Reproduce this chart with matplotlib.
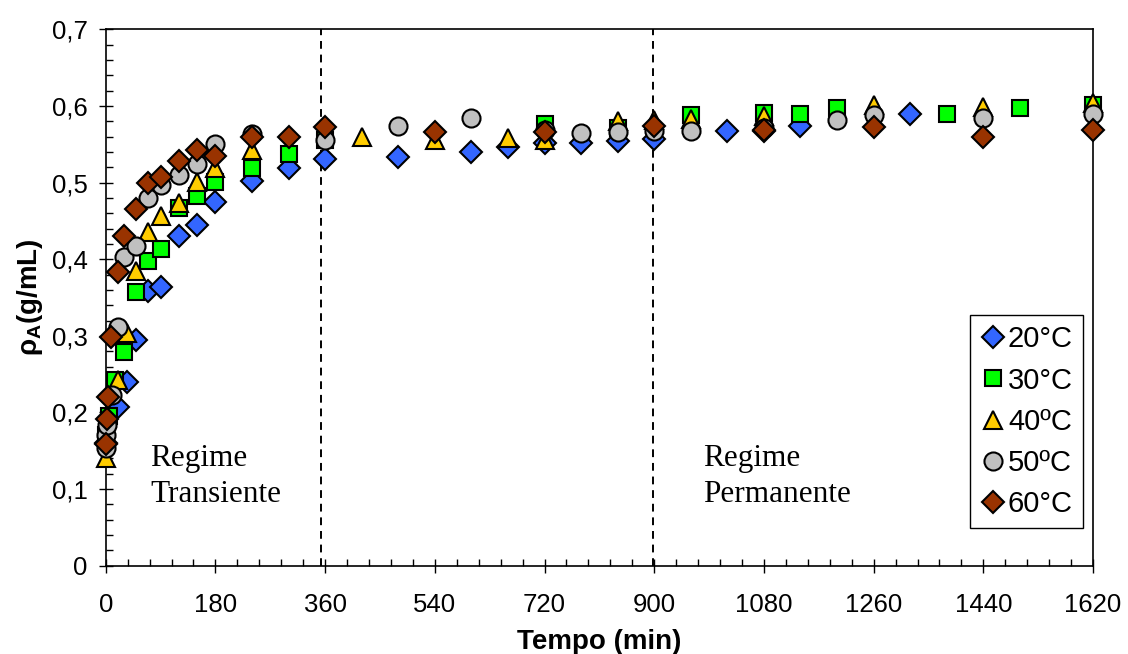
import matplotlib.pyplot as plt
from matplotlib.ticker import MultipleLocator, FuncFormatter
import numpy as np

plt.rcParams['font.family'] = ['Liberation Sans', 'DejaVu Sans']
plt.rcParams['mathtext.fontset'] = 'custom'
plt.rcParams['mathtext.rm'] = 'Liberation Sans'
plt.rcParams['mathtext.bf'] = 'Liberation Sans:bold'
plt.rcParams['mathtext.it'] = 'Liberation Sans:italic'

# tempo (min) e densidade (g/mL) para cada temperatura
t_20 = [0, 20, 35, 50, 70, 90, 120, 150, 180, 240, 300, 360, 480, 600, 660, 720, 780, 840, 900, 1020, 1080, 1140, 1320]
rho_20 = [0.160, 0.207, 0.240, 0.295, 0.358, 0.364, 0.430, 0.445, 0.475, 0.502, 0.519, 0.531, 0.533, 0.540, 0.546,
          0.552, 0.552, 0.555, 0.557, 0.567, 0.568, 0.574, 0.589]

t_30 = [0, 5, 15, 30, 50, 70, 90, 120, 150, 180, 240, 300, 360, 720, 840, 960, 1080, 1140, 1200, 1380, 1500, 1620]
rho_30 = [0.170, 0.195, 0.242, 0.279, 0.357, 0.398, 0.413, 0.467, 0.483, 0.501, 0.519, 0.537, 0.556, 0.577, 0.571,
          0.588, 0.591, 0.589, 0.598, 0.589, 0.598, 0.602]

t_40 = [0, 20, 35, 50, 70, 90, 120, 150, 180, 240, 420, 540, 660, 720, 840, 900, 960, 1080, 1260, 1440, 1620]
rho_40 = [0.140, 0.242, 0.304, 0.385, 0.436, 0.456, 0.474, 0.501, 0.519, 0.543, 0.560, 0.556, 0.558, 0.556, 0.580,
          0.582, 0.583, 0.587, 0.601, 0.599, 0.604]

t_50 = [0, 1, 2, 10, 20, 30, 50, 70, 90, 120, 150, 180, 240, 360, 480, 600, 720, 780, 840, 900, 960, 1080, 1200,
        1260, 1440, 1620]
rho_50 = [0.153, 0.171, 0.184, 0.223, 0.312, 0.403, 0.417, 0.480, 0.497, 0.510, 0.525, 0.550, 0.564, 0.556, 0.574,
          0.584, 0.569, 0.565, 0.566, 0.567, 0.568, 0.571, 0.582, 0.588, 0.585, 0.589]

t_60 = [0, 2, 4, 8, 20, 30, 50, 70, 90, 120, 150, 180, 240, 300, 360, 540, 720, 900, 1080, 1260, 1440, 1620]
rho_60 = [0.159, 0.192, 0.220, 0.298, 0.384, 0.430, 0.465, 0.499, 0.507, 0.528, 0.543, 0.535, 0.560, 0.559, 0.572,
          0.566, 0.566, 0.574, 0.569, 0.572, 0.560, 0.569]

labels = ['20°C', '30°C', '40ºC', '50ºC', '60°C']
regime_lines = [354, 898]

series = [
    (t_20, rho_20, 'D', '#3366FF', 11),
    (t_30, rho_30, 's', '#00FF00', 12),
    (t_40, rho_40, '^', '#FFCC00', 13.5),
    (t_50, rho_50, 'o', '#C0C0C0', 13),
    (t_60, rho_60, 'D', '#993300', 11),
]

fig = plt.figure(figsize=(11.28, 6.54), dpi=100)
ax = fig.add_axes([0.0937, 0.135, 0.8753, 0.820])

for (t, rho, m, c, ms), lab in zip(series, labels):
    ax.plot(t, rho, linestyle='none', marker=m, markersize=ms, markerfacecolor=c,
            markeredgecolor='black', markeredgewidth=1.5, label=lab, clip_on=False, zorder=3)

for xv in regime_lines:
    ax.plot([xv, xv], [0, 0.7], color='black', linestyle=(0, (4, 3)), linewidth=1.4, zorder=2)

ax.set_xlim(0, 1620)
ax.set_ylim(0, 0.7)
ax.xaxis.set_major_locator(MultipleLocator(180))
ax.xaxis.set_minor_locator(MultipleLocator(36))
ax.yaxis.set_major_locator(MultipleLocator(0.1))
ax.yaxis.set_minor_locator(MultipleLocator(0.02))
ax.yaxis.set_major_formatter(FuncFormatter(lambda v, p: '0' if abs(v) < 1e-9 else f'{v:.1f}'.replace('.', ',')))
ax.tick_params(which='major', direction='inout', length=10, width=1, labelsize=18.5, top=False, right=False)
ax.tick_params(which='minor', direction='in', length=5, width=1, top=False, right=False)
ax.tick_params(axis='x', which='major', pad=15)
ax.tick_params(axis='y', which='major', pad=8)

for sp in ax.spines.values():
    sp.set_linewidth(1.2)

ax.set_xlabel('Tempo (min)', fontsize=20, fontweight='bold', labelpad=8)
ax.set_ylabel(r'$\mathbf{\rho_A}$(g/mL)', fontsize=20, fontweight='bold', labelpad=5)

ax.text(73, 0.140, 'Regime', family='Liberation Serif', fontsize=22.5, va='center')
ax.text(73, 0.093, 'Transiente', family='Liberation Serif', fontsize=22.5, va='center')
ax.text(980, 0.140, 'Regime', family='Liberation Serif', fontsize=22.5, va='center')
ax.text(980, 0.093, 'Permanente', family='Liberation Serif', fontsize=22.5, va='center')

leg = ax.legend(loc='lower right', bbox_to_anchor=(0.99, 0.07), fontsize=21, frameon=True, fancybox=False,
                edgecolor='black', handletextpad=0.05, handlelength=0.9, labelspacing=0.45, borderpad=0.35,
                borderaxespad=0, framealpha=1)
leg.get_frame().set_linewidth(1.0)

plt.savefig('out.png', dpi=100)
